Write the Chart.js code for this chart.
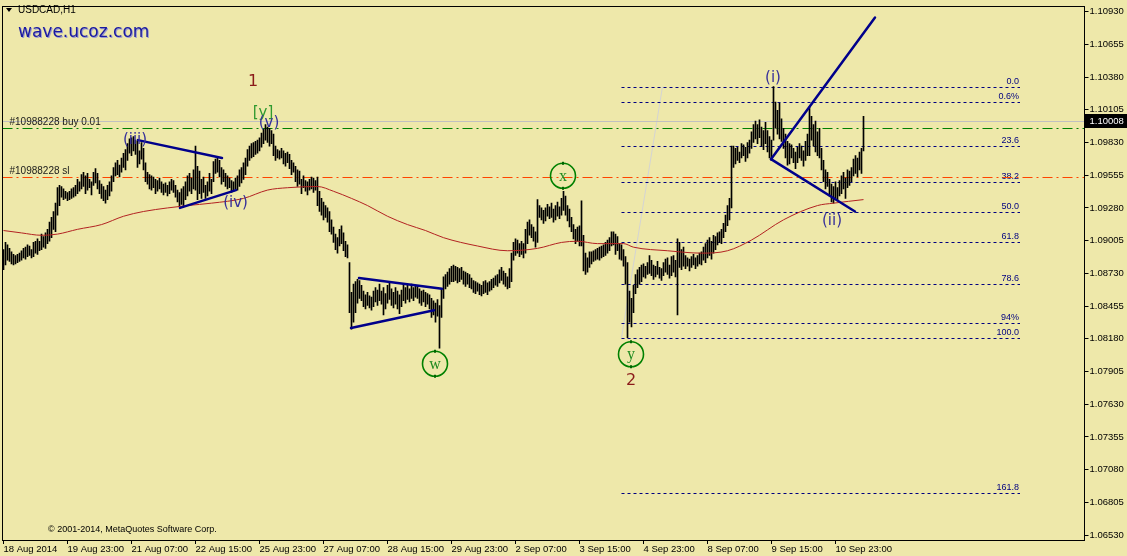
<!DOCTYPE html>
<html>
<head>
<meta charset="utf-8">
<title>USDCAD,H1</title>
<script src="https://cdn.jsdelivr.net/npm/chart.js@4.4.1/dist/chart.umd.min.js"></script>
<style>
  html, body { margin: 0; padding: 0; background: #eee8aa; overflow: hidden; }
  canvas { display: block; }
</style>
</head>
<body>
<canvas id="chart" width="1127" height="556"></canvas>
<script>
// USDCAD H1, one [low, high] pair per hourly bar, 18 Aug - 11 Sep 2014
const hourBars = [
  [1.0876,1.0893],[1.0880,1.0899],[1.0884,1.0897],[1.0883,1.0894],[1.0881,1.0891],[1.0880,1.0889],[1.0881,1.0888],[1.0882,1.0889],[1.0883,1.0890],[1.0884,1.0892],
  [1.0886,1.0894],[1.0885,1.0895],[1.0887,1.0897],[1.0888,1.0896],[1.0886,1.0893],[1.0887,1.0899],[1.0890,1.0900],[1.0889,1.0902],[1.0892,1.0900],[1.0893,1.0906],
  [1.0895,1.0904],[1.0894,1.0907],[1.0898,1.0910],[1.0900,1.0916],[1.0903,1.0920],[1.0910,1.0925],[1.0908,1.0932],[1.0922,1.0945],[1.0930,1.0947],[1.0937,1.0946],
  [1.0935,1.0944],[1.0936,1.0942],[1.0934,1.0941],[1.0935,1.0942],[1.0936,1.0944],[1.0937,1.0945],[1.0938,1.0947],[1.0940,1.0952],[1.0942,1.0950],[1.0944,1.0956],
  [1.0946,1.0958],[1.0940,1.0955],[1.0943,1.0957],[1.0945,1.0952],[1.0939,1.0950],[1.0947,1.0958],[1.0949,1.0961],[1.0944,1.0957],[1.0940,1.0951],[1.0936,1.0948],
  [1.0934,1.0946],[1.0932,1.0943],[1.0935,1.0947],[1.0938,1.0950],[1.0942,1.0955],[1.0950,1.0962],[1.0955,1.0966],[1.0956,1.0968],[1.0954,1.0964],[1.0958,1.0970],
  [1.0962,1.0974],[1.0960,1.0977],[1.0968,1.0982],[1.0974,1.0986],[1.0972,1.0987],[1.0976,1.0988],[1.0973,1.0985],[1.0962,1.0984],[1.0965,1.0976],[1.0969,1.0983],
  [1.0960,1.0978],[1.0950,1.0966],[1.0948,1.0958],[1.0944,1.0956],[1.0943,1.0955],[1.0945,1.0954],[1.0940,1.0952],[1.0942,1.0951],[1.0944,1.0953],[1.0941,1.0950],
  [1.0939,1.0948],[1.0941,1.0949],[1.0938,1.0947],[1.0940,1.0950],[1.0943,1.0952],[1.0941,1.0951],[1.0937,1.0947],[1.0933,1.0943],[1.0929,1.0941],[1.0931,1.0944],
  [1.0930,1.0946],[1.0935,1.0950],[1.0938,1.0955],[1.0942,1.0957],[1.0940,1.0953],[1.0944,1.0960],[1.0943,1.0980],[1.0935,1.0963],[1.0940,1.0959],[1.0936,1.0952],
  [1.0941,1.0954],[1.0936,1.0947],[1.0938,1.0950],[1.0942,1.0957],[1.0940,1.0952],[1.0950,1.0967],[1.0957,1.0969],[1.0958,1.0970],[1.0954,1.0968],[1.0948,1.0962],
  [1.0950,1.0960],[1.0946,1.0957],[1.0944,1.0955],[1.0945,1.0953],[1.0941,1.0951],[1.0942,1.0950],[1.0944,1.0953],[1.0943,1.0955],[1.0946,1.0960],[1.0949,1.0962],
  [1.0952,1.0966],[1.0956,1.0970],[1.0963,1.0977],[1.0968,1.0980],[1.0970,1.0982],[1.0971,1.0983],[1.0973,1.0984],[1.0974,1.0985],[1.0976,1.0987],[1.0979,1.0991],
  [1.0982,1.0994],[1.0985,1.0998],[1.0983,1.0996],[1.0980,1.0995],[1.0982,1.0993],[1.0972,1.0990],[1.0968,1.0980],[1.0970,1.0977],[1.0969,1.0976],[1.0970,1.0978],
  [1.0965,1.0976],[1.0963,1.0974],[1.0966,1.0975],[1.0961,1.0973],[1.0956,1.0968],[1.0958,1.0966],[1.0950,1.0963],[1.0946,1.0960],[1.0948,1.0959],[1.0940,1.0952],
  [1.0945,1.0955],[1.0942,1.0951],[1.0939,1.0950],[1.0943,1.0952],[1.0944,1.0954],[1.0941,1.0953],[1.0943,1.0951],[1.0930,1.0954],[1.0925,1.0942],[1.0922,1.0936],
  [1.0918,1.0933],[1.0920,1.0930],[1.0916,1.0928],[1.0908,1.0925],[1.0906,1.0918],[1.0899,1.0912],[1.0893,1.0906],[1.0890,1.0903],[1.0896,1.0910],[1.0898,1.0913],
  [1.0892,1.0907],[1.0887,1.0900],[1.0886,1.0897],[1.0840,1.0882],[1.0826,1.0857],[1.0832,1.0864],[1.0840,1.0866],[1.0848,1.0868],[1.0852,1.0867],[1.0850,1.0863],
  [1.0845,1.0858],[1.0843,1.0855],[1.0846,1.0857],[1.0844,1.0854],[1.0842,1.0853],[1.0845,1.0858],[1.0849,1.0861],[1.0846,1.0859],[1.0850,1.0864],[1.0847,1.0858],
  [1.0838,1.0861],[1.0843,1.0856],[1.0848,1.0863],[1.0851,1.0866],[1.0846,1.0860],[1.0844,1.0857],[1.0847,1.0861],[1.0843,1.0858],[1.0839,1.0855],[1.0845,1.0859],
  [1.0850,1.0864],[1.0848,1.0861],[1.0851,1.0863],[1.0849,1.0860],[1.0852,1.0864],[1.0850,1.0861],[1.0853,1.0863],[1.0852,1.0862],[1.0848,1.0860],[1.0846,1.0858],
  [1.0849,1.0859],[1.0845,1.0857],[1.0847,1.0856],[1.0843,1.0855],[1.0836,1.0852],[1.0838,1.0850],[1.0832,1.0848],[1.0837,1.0851],[1.0810,1.0846],[1.0836,1.0860],
  [1.0852,1.0870],[1.0860,1.0872],[1.0862,1.0874],[1.0864,1.0877],[1.0866,1.0879],[1.0866,1.0880],[1.0867,1.0879],[1.0865,1.0878],[1.0866,1.0877],[1.0868,1.0878],
  [1.0864,1.0875],[1.0862,1.0874],[1.0864,1.0873],[1.0861,1.0872],[1.0860,1.0869],[1.0857,1.0867],[1.0856,1.0866],[1.0858,1.0865],[1.0855,1.0864],[1.0854,1.0863],
  [1.0856,1.0866],[1.0857,1.0867],[1.0855,1.0865],[1.0858,1.0866],[1.0859,1.0868],[1.0861,1.0869],[1.0863,1.0871],[1.0862,1.0872],[1.0865,1.0876],[1.0867,1.0878],
  [1.0864,1.0875],[1.0862,1.0873],[1.0860,1.0870],[1.0861,1.0877],[1.0866,1.0890],[1.0884,1.0899],[1.0888,1.0902],[1.0890,1.0901],[1.0887,1.0898],[1.0889,1.0900],
  [1.0886,1.0898],[1.0890,1.0910],[1.0898,1.0916],[1.0905,1.0918],[1.0903,1.0914],[1.0900,1.0912],[1.0895,1.0908],[1.0899,1.0935],[1.0920,1.0930],[1.0918,1.0928],
  [1.0915,1.0926],[1.0917,1.0928],[1.0921,1.0931],[1.0919,1.0929],[1.0920,1.0932],[1.0916,1.0927],[1.0918,1.0930],[1.0921,1.0933],[1.0919,1.0929],[1.0922,1.0936],
  [1.0926,1.0942],[1.0922,1.0938],[1.0917,1.0930],[1.0912,1.0927],[1.0908,1.0920],[1.0902,1.0914],[1.0898,1.0910],[1.0900,1.0912],[1.0896,1.0913],[1.0896,1.0934],
  [1.0875,1.0905],[1.0872,1.0890],[1.0874,1.0886],[1.0878,1.0891],[1.0881,1.0891],[1.0883,1.0892],[1.0884,1.0893],[1.0885,1.0894],[1.0884,1.0895],[1.0886,1.0896],
  [1.0887,1.0897],[1.0888,1.0899],[1.0890,1.0901],[1.0892,1.0903],[1.0896,1.0908],[1.0897,1.0908],[1.0889,1.0906],[1.0892,1.0904],[1.0885,1.0898],[1.0884,1.0897],
  [1.0879,1.0893],[1.0864,1.0887],[1.0819,1.0882],[1.0832,1.0858],[1.0828,1.0852],[1.0840,1.0863],[1.0856,1.0872],[1.0861,1.0876],[1.0864,1.0878],[1.0866,1.0880],
  [1.0870,1.0881],[1.0869,1.0879],[1.0872,1.0882],[1.0873,1.0888],[1.0871,1.0884],[1.0868,1.0880],[1.0870,1.0879],[1.0872,1.0883],[1.0869,1.0878],[1.0867,1.0877],
  [1.0871,1.0882],[1.0874,1.0885],[1.0872,1.0886],[1.0869,1.0880],[1.0871,1.0887],[1.0874,1.0888],[1.0870,1.0884],[1.0838,1.0902],[1.0878,1.0899],[1.0876,1.0893],
  [1.0879,1.0895],[1.0877,1.0888],[1.0879,1.0886],[1.0875,1.0885],[1.0878,1.0887],[1.0880,1.0889],[1.0877,1.0886],[1.0879,1.0888],[1.0881,1.0890],[1.0880,1.0891],
  [1.0884,1.0895],[1.0882,1.0898],[1.0886,1.0901],[1.0888,1.0903],[1.0885,1.0900],[1.0890,1.0905],[1.0893,1.0904],[1.0897,1.0907],[1.0899,1.0908],[1.0898,1.0910],
  [1.0903,1.0915],[1.0908,1.0922],[1.0913,1.0930],[1.0918,1.0936],[1.0928,1.0980],[1.0962,1.0980],[1.0965,1.0978],[1.0968,1.0979],[1.0966,1.0975],[1.0970,1.0982],
  [1.0972,1.0981],[1.0967,1.0979],[1.0970,1.0983],[1.0974,1.0985],[1.0978,1.0992],[1.0983,1.0998],[1.0986,1.1001],[1.0982,1.0998],[1.0987,1.1002],[1.0980,1.0996],
  [1.0977,1.0993],[1.0982,1.1000],[1.0975,1.0993],[1.0970,1.0988],[1.0968,1.0985],[1.0985,1.1030],[1.0995,1.1017],[1.0990,1.1010],[1.0986,1.1016],[1.0984,1.1003],
  [1.0978,1.0995],[1.0970,1.0990],[1.0964,1.0984],[1.0965,1.0982],[1.0970,1.0981],[1.0966,1.0978],[1.0961,1.0975],[1.0966,1.0979],[1.0970,1.0982],[1.0968,1.0980],
  [1.0963,1.0976],[1.0968,1.0984],[1.0972,1.0990],[1.0972,1.1013],[1.0985,1.1005],[1.0980,1.0998],[1.0975,1.1001],[1.0972,1.0992],[1.0970,1.0995],[1.0960,1.0978],
  [1.0950,1.0968],[1.0944,1.0960],[1.0946,1.0958],[1.0938,1.0952],[1.0933,1.0948],[1.0932,1.0946],[1.0936,1.0950],[1.0934,1.0945],[1.0938,1.0951],[1.0940,1.0955],
  [1.0944,1.0958],[1.0936,1.0953],[1.0945,1.0960],[1.0947,1.0959],[1.0950,1.0962],[1.0955,1.0969],[1.0957,1.0972],[1.0954,1.0970],[1.0960,1.0975],[1.0957,1.0978],
  [1.0976,1.1005]
];

// moving average (red), read at a few bars
const maBars   = [0, 9, 19, 27, 37, 49, 60, 70, 82, 92, 104, 120, 132, 142, 157, 165, 174, 182, 192, 202,
                  211, 220, 237, 252, 267, 279, 287, 297, 310, 315, 332, 349, 362, 374, 390, 407, 415, 430];
const maValues = [1.0909, 1.0907, 1.0905, 1.0906, 1.0910, 1.0914, 1.0921, 1.0925, 1.0928, 1.0930,
                  1.0932, 1.0936, 1.0943, 1.0945, 1.0946, 1.0942, 1.0936, 1.0930, 1.0921, 1.0914,
                  1.0909, 1.0903, 1.0896, 1.0892, 1.0894, 1.0899, 1.0900, 1.0898, 1.0898, 1.0895,
                  1.0892, 1.0890, 1.0892, 1.0901, 1.0918, 1.0930, 1.0932, 1.0935];

// time axis: one label every 32 bars
const timeLabels = ['18 Aug 2014', '19 Aug 23:00', '21 Aug 07:00', '22 Aug 15:00', '25 Aug 23:00',
                    '27 Aug 07:00', '28 Aug 15:00', '29 Aug 23:00', '2 Sep 07:00', '3 Sep 15:00',
                    '4 Sep 23:00', '8 Sep 07:00', '9 Sep 15:00', '10 Sep 23:00'];
const priceTicks = [1.06530, 1.06805, 1.07080, 1.07355, 1.07630, 1.07905, 1.08180, 1.08455, 1.08730,
                    1.09005, 1.09280, 1.09555, 1.09830, 1.10105, 1.10380, 1.10655, 1.10930];

// order lines
const bidPrice = 1.10008;
const buyPrice = 1.0995;
const slPrice = 1.0954;

// fibo retracement, 0 at the (i) top, 100 at the wave 2 low
const fibHigh = 1.1030;
const fibLow = 1.0819;
const fibRatios = [0, 0.06, 0.236, 0.382, 0.5, 0.618, 0.786, 0.94, 1, 1.618];
const fibLabels = ['0.0', '0.6%', '23.6', '38.2', '50.0', '61.8', '78.6', '94%', '100.0', '161.8'];

// ---- drawing settings ----
const SLOTS = 541;          // bars across the window
const BG = '#eee8aa';
const NAVY = '#00008b';
const WAVE = '#36309a';
const AXIS_FONT = { family: '"Liberation Sans", Arial, sans-serif', size: 9.5 };
const fibSpan = { from: 309, to: 508.25, baseTo: 329.5 };

// trend lines, [bar, price]
const trendLines = [
  [[67.25, 1.0985], [109.25, 1.0970]],
  [[88.25, 1.0928], [116.25, 1.0943]],
  [[177.75, 1.0869], [219.25, 1.0860]],
  [[173.75, 1.0827], [215.25, 1.0842]],
  [[383.75, 1.0969], [435.75, 1.1088]],
  [[383.75, 1.0969], [425.75, 1.0925]]
];

const waveLabels = [
  { text: '1',     at: [124.75, 1.1034], color: '#8b1a1a', font: '16px "DejaVu Sans"' },
  { text: '[y]',   at: [129.75, 1.1008], color: '#2f9a2f', font: '15px "DejaVu Sans"' },
  { text: '(v)',   at: [132.75, 1.0999], color: WAVE,      font: '15px "DejaVu Sans"' },
  { text: '(iii)', at: [65.75,  1.0985], color: WAVE,      font: '15px "DejaVu Sans"' },
  { text: '(iv)',  at: [116.0,  1.0932], color: WAVE,      font: '15px "DejaVu Sans"' },
  { text: '(i)',   at: [384.75, 1.1037], color: WAVE,      font: '15px "DejaVu Sans"' },
  { text: '(ii)',  at: [414.25, 1.0917], color: WAVE,      font: '15px "DejaVu Sans"' },
  { text: '2',     at: [313.75, 1.0783], color: '#8b1a1a', font: '16px "DejaVu Sans"' }
];
const circledLabels = [
  { text: 'x', at: [279.75, 1.0955] },
  { text: 'w', at: [215.75, 1.0797] },
  { text: 'y', at: [313.75, 1.0805] }
];

Chart.defaults.font.family = AXIS_FONT.family;
Chart.defaults.font.size = AXIS_FONT.size;
Chart.defaults.color = '#000';

function clipToArea(ctx, a) {
  ctx.beginPath();
  ctx.rect(a.left, a.top, a.right - a.left, a.bottom - a.top);
  ctx.clip();
}

const chartOverlay = {
  id: 'chartOverlay',
  beforeDraw(chart) {
    const ctx = chart.ctx;
    ctx.save();
    ctx.fillStyle = BG;
    ctx.fillRect(0, 0, chart.width, chart.height);
    ctx.restore();
  },
  beforeDatasetsDraw(chart) {
    const { ctx, chartArea: a, scales } = chart;
    const X = v => scales.x.getPixelForValue(v);
    const Y = v => scales.y.getPixelForValue(v);
    ctx.save();
    clipToArea(ctx, a);
    ctx.lineWidth = 1;

    // fibo base line
    ctx.strokeStyle = '#d4d4d4';
    ctx.beginPath();
    ctx.moveTo(X(fibSpan.from), Y(fibLow));
    ctx.lineTo(X(fibSpan.baseTo), Y(fibHigh));
    ctx.stroke();

    // fibo levels
    ctx.strokeStyle = '#000080';
    ctx.setLineDash([3, 3]);
    ctx.font = '9px "Liberation Sans"';
    ctx.fillStyle = '#000080';
    ctx.textAlign = 'right';
    ctx.textBaseline = 'bottom';
    fibRatios.forEach((r, k) => {
      const py = Math.round(Y(fibHigh - r * (fibHigh - fibLow))) + 0.5;
      ctx.beginPath();
      ctx.moveTo(X(fibSpan.from), py);
      ctx.lineTo(X(fibSpan.to), py);
      ctx.stroke();
      ctx.fillText(fibLabels[k], X(fibSpan.to) - 1, py - 1);
    });

    // order lines
    const hline = (p, color, dash) => {
      const py = Math.round(Y(p)) + 0.5;
      ctx.strokeStyle = color;
      ctx.setLineDash(dash);
      ctx.beginPath();
      ctx.moveTo(a.left, py);
      ctx.lineTo(a.right, py);
      ctx.stroke();
      return py;
    };
    hline(bidPrice, '#c0c0c0', []);
    const buyY = hline(buyPrice, '#008000', [10, 4, 2, 4]);
    const slY = hline(slPrice, '#ff4500', [10, 4, 2, 4]);

    ctx.setLineDash([]);
    ctx.font = '10px "Liberation Sans"';
    ctx.fillStyle = '#1a1a1a';
    ctx.textAlign = 'left';
    ctx.textBaseline = 'bottom';
    ctx.fillText('#10988228 buy 0.01', a.left + 7, buyY - 1);
    ctx.fillText('#10988228 sl', a.left + 7, slY - 1);
    ctx.restore();
  },
  afterDatasetsDraw(chart) {
    const { ctx, chartArea: a, scales } = chart;
    const X = v => scales.x.getPixelForValue(v);
    const Y = v => scales.y.getPixelForValue(v);

    ctx.save();
    clipToArea(ctx, a);
    ctx.strokeStyle = NAVY;
    ctx.lineWidth = 2.5;
    ctx.lineCap = 'round';
    trendLines.forEach(([p, q]) => {
      ctx.beginPath();
      ctx.moveTo(X(p[0]), Y(p[1]));
      ctx.lineTo(X(q[0]), Y(q[1]));
      ctx.stroke();
    });

    ctx.textAlign = 'center';
    ctx.textBaseline = 'middle';
    waveLabels.forEach(l => {
      ctx.font = l.font;
      ctx.fillStyle = l.color;
      ctx.fillText(l.text, X(l.at[0]), Y(l.at[1]));
    });

    circledLabels.forEach(l => {
      const cx = X(l.at[0]), cy = Y(l.at[1]);
      ctx.strokeStyle = '#008000';
      ctx.lineWidth = 1.6;
      ctx.beginPath();
      ctx.arc(cx, cy, 12.5, 0, Math.PI * 2);
      ctx.stroke();
      ctx.fillStyle = '#006400';
      ctx.fillRect(cx - 1, cy - 14, 2, 3);
      ctx.fillRect(cx - 1, cy + 11, 2, 3);
      ctx.fillStyle = '#1f8a1f';
      ctx.font = '16px "Liberation Serif"';
      ctx.fillText(l.text, cx, cy + 1);
    });
    ctx.restore();

    // frame
    ctx.save();
    ctx.strokeStyle = '#000';
    ctx.lineWidth = 1;
    const l = Math.floor(a.left) + 0.5, r = Math.floor(a.right) + 0.5;
    const t = Math.floor(a.top) + 0.5, b = Math.floor(a.bottom) + 0.5;
    ctx.strokeRect(l, t, r - l, b - t);

    // bid price box
    const by = Math.round(Y(bidPrice));
    ctx.fillStyle = '#000';
    ctx.fillRect(Math.ceil(a.right), by - 7, chart.width - Math.ceil(a.right), 14);
    ctx.fillStyle = '#fff';
    ctx.font = '9.5px "Liberation Sans"';
    ctx.textAlign = 'left';
    ctx.textBaseline = 'middle';
    ctx.fillText(bidPrice.toFixed(5), a.right + 5, by);

    // window captions
    ctx.fillStyle = '#000';
    ctx.beginPath();
    ctx.moveTo(6, 8); ctx.lineTo(12, 8); ctx.lineTo(9, 12); ctx.closePath();
    ctx.fill();
    ctx.font = '10px "Liberation Sans"';
    ctx.fillText('USDCAD,H1', 18, 10);

    ctx.font = '17px "DejaVu Sans"';
    ctx.fillStyle = '#9a9ad0';
    ctx.fillText('wave.ucoz.com', 19, 34);
    ctx.fillStyle = '#1a1aa0';
    ctx.fillText('wave.ucoz.com', 18, 33);

    ctx.font = '9px "Liberation Sans"';
    ctx.fillStyle = '#000';
    ctx.fillText('\u00a9 2001-2014, MetaQuotes Software Corp.', 48, 530);
    ctx.restore();
  }
};

const chart = new Chart(document.getElementById('chart'), {
  type: 'bar',
  data: {
    datasets: [
      {
        type: 'line',
        data: maBars.map((x, k) => ({ x, y: maValues[k] })),
        borderColor: '#b22222',
        borderWidth: 1,
        pointRadius: 0,
        cubicInterpolationMode: 'monotone',
        order: 0
      },
      {
        type: 'bar',
        data: hourBars.map((b, i) => ({ x: i, y: b })),
        backgroundColor: '#000',
        borderWidth: 0,
        barThickness: 1,
        order: 1
      }
    ]
  },
  options: {
    responsive: false,
    animation: false,
    devicePixelRatio: 1,
    layout: { padding: { left: 2.5, top: 2, right: 0, bottom: 0 } },
    plugins: { legend: { display: false }, tooltip: { enabled: false } },
    scales: {
      x: {
        type: 'linear',
        min: -0.5,
        max: SLOTS - 0.5,
        offset: false,
        border: { display: false },
        grid: { drawOnChartArea: false, offset: false, color: '#000', tickLength: 4 },
        afterBuildTicks: s => { s.ticks = timeLabels.map((_, k) => ({ value: k * 32 })); },
        afterFit: s => { s.height = 16; },
        ticks: {
          autoSkip: false,
          maxRotation: 0,
          align: 'start',
          padding: 0,
          callback: (v, i) => timeLabels[i]
        }
      },
      y: {
        position: 'right',
        min: 1.0653 - 5 / 12000,
        max: 1.1093 + 5 / 12000,
        border: { display: false },
        grid: { drawOnChartArea: false, color: '#000', tickLength: 4 },
        afterBuildTicks: s => { s.ticks = priceTicks.map(v => ({ value: v })); },
        afterFit: s => { s.width = 42.5; },
        ticks: { padding: 1, callback: v => v.toFixed(5) }
      }
    }
  },
  plugins: [chartOverlay]
});
</script>
</body>
</html>
